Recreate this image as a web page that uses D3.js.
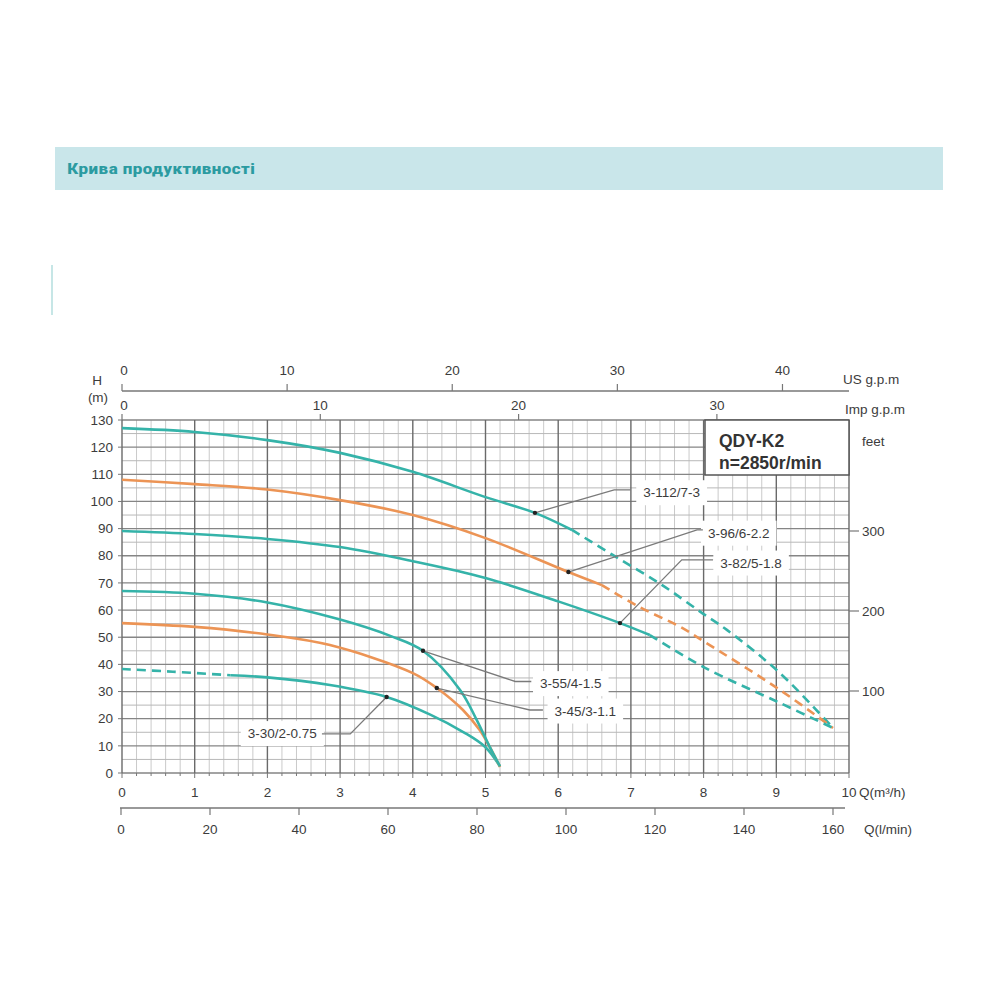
<!DOCTYPE html>
<html><head><meta charset="utf-8">
<script src="https://cdn.jsdelivr.net/npm/d3@7"></script>
<style>body{margin:0;background:#fff}svg{display:block}</style>
</head><body>
<script>
// ---------- DATA ----------
const title = "Крива продуктивності";
const modelName = "QDY-K2";
const speedText = "n=2850r/min";
const curveNames = ["3-112/7-3","3-96/6-2.2","3-82/5-1.8","3-55/4-1.5","3-45/3-1.1","3-30/2-0.75"];

const q112Solid = [0,1,2,3,4,5,5.68,6.19];
const h112Solid = [127,125.6,122.6,117.9,110.9,101.6,95.8,89.5];
const q112Dash  = [6.19,6.75,7.43,7.98,8.32,9.05,9.78];
const h112Dash  = [89.5,80.3,69.2,58.9,52.7,36.8,16.6];

const q96Solid = [0,1,2,3,4,5,6.14,6.6];
const h96Solid = [108,106.4,104.4,100.5,95,86.5,74,69.2];
const q96Dash  = [6.6,7.12,7.68,8,9.05,9.78];
const h96Dash  = [69.2,61.1,53.8,48.5,30.6,16.6];

const q82Solid = [0,1,2,3,4,5,6,6.85,7.26];
const h82Solid = [89.1,88,86.2,83.2,78,71.8,63.2,55.2,50.8];
const q82Dash  = [7.26,8,9.05,9.78];
const h82Dash  = [50.8,39,25.8,16.6];

const q55Solid = [0,1,2,3,3.69,4.14,4.65,4.88,5.06,5.2];
const h55Solid = [67,66,62.8,56.5,50.5,45,30.6,19.5,9.5,2.4];

const q45Solid = [0,1,2,2.86,4,4.33,4.69,4.92,5.06,5.2];
const h45Solid = [55.2,53.8,51,47.1,36.8,31.3,23.2,15.8,9.5,2.2];

const q30Dash  = [0,0.7,1.49];
const h30Dash  = [38.3,37.3,36];
const q30Solid = [1.49,2,2.86,3.64,4.24,4.7,5.0,5.2];
const h30Solid = [36,35.2,32.4,28,21.5,15,9.5,2.4];

// marker points on curves (Q m3/h, H m)
const markerQ = [5.68,6.14,6.85,4.14,4.33,3.64];
const markerH = [95.8,74,55.2,45,31.3,28];

// axis ticks
const qTicks = [0,1,2,3,4,5,6,7,8,9,10];
const hTicks = [0,10,20,30,40,50,60,70,80,90,100,110,120,130];
const usGpmTicks = [0,10,20,30,40];
const impGpmTicks = [0,10,20,30];
const lminTicks = [0,20,40,60,80,100,120,140,160];
const feetTicks = [100,200,300];

// ---------- LAYOUT ----------
const svg = d3.select("body").append("svg").attr("width",1000).attr("height",1000);
const FONT = "'Liberation Sans', Arial, sans-serif";
const TEAL = "#35b3a9", ORANGE = "#ec9455";
const X0 = 122, X1 = 849, Y0 = 773, Y1 = 420;
const FS = 13.5;

const x = d3.scaleLinear().domain([0,10]).range([X0,X1]);
const y = d3.scaleLinear().domain([0,130]).range([Y0,Y1]);
const xUS = d3.scaleLinear().domain([0,10*4.4029]).range([X0,X1]);
const xImp = d3.scaleLinear().domain([0,10*3.6662]).range([X0,X1]);
const xLmin = d3.scaleLinear().domain([0,160]).range([121,833]);
const yFeet = d3.scaleLinear().domain([0,400]).range([771,451]);

// header band
svg.append("rect").attr("x",55).attr("y",147).attr("width",888).attr("height",43).attr("fill","#c9e6ea");
svg.append("text").attr("x",67).attr("y",174).text(title)
  .attr("font-family","'Roboto Condensed','Liberation Sans Narrow',Roboto,sans-serif")
  .attr("font-weight","bold").attr("font-size",15.5).attr("fill","#2b9ba1")
  .attr("textLength",188).attr("lengthAdjust","spacingAndGlyphs");
svg.append("line").attr("x1",52).attr("x2",52).attr("y1",265).attr("y2",315)
  .attr("stroke","#c6e6e6").attr("stroke-width",2);

// grid
const g = svg.append("g");
const minorQ = d3.range(0,10.0001,0.2).map(v=>+v.toFixed(2));
const minorH = d3.range(0,130.0001,5);
g.selectAll("line.vmin").data(minorQ.filter(v=>Math.abs(v-Math.round(v))>1e-6)).enter().append("line")
  .attr("x1",d=>x(d)).attr("x2",d=>x(d)).attr("y1",Y1).attr("y2",Y0)
  .attr("stroke","#cacaca").attr("stroke-width",1);
g.selectAll("line.hmin").data(minorH.filter(v=>v%10!==0)).enter().append("line")
  .attr("x1",X0).attr("x2",X1).attr("y1",d=>y(d)).attr("y2",d=>y(d))
  .attr("stroke","#b8b8b8").attr("stroke-width",1);
g.selectAll("line.hmaj").data(hTicks).enter().append("line")
  .attr("x1",X0).attr("x2",X1).attr("y1",d=>y(d)).attr("y2",d=>y(d))
  .attr("stroke","#858585").attr("stroke-width",1.3);
g.selectAll("line.vmaj").data(qTicks).enter().append("line")
  .attr("x1",d=>x(d)).attr("x2",d=>x(d)).attr("y1",Y1).attr("y2",Y0)
  .attr("stroke","#6a6a6a").attr("stroke-width",1.4);

const txt = (sel)=>sel.attr("font-family",FONT).attr("fill","#3c3c3c").attr("font-size",FS);

// left H axis labels
hTicks.forEach(v=>{
  svg.append("line").attr("x1",X0-4).attr("x2",X0).attr("y1",y(v)).attr("y2",y(v)).attr("stroke","#777");
  txt(svg.append("text")).attr("x",X0-9).attr("y",y(v)).attr("dy","0.35em").attr("text-anchor","end").text(v);
});
txt(svg.append("text")).attr("x",97).attr("y",385).attr("text-anchor","middle").text("H");
txt(svg.append("text")).attr("x",98).attr("y",402).attr("text-anchor","middle").text("(m)");

// right feet axis
feetTicks.forEach(v=>{
  svg.append("line").attr("x1",X1).attr("x2",X1+10).attr("y1",yFeet(v)).attr("y2",yFeet(v)).attr("stroke","#777").attr("stroke-width",1.2);
  txt(svg.append("text")).attr("x",X1+13).attr("y",yFeet(v)).attr("dy","0.35em").text(v);
});
txt(svg.append("text")).attr("x",862).attr("y",441).attr("dy","0.35em").text("feet");

// top US gpm axis
svg.append("line").attr("x1",X0).attr("x2",X1).attr("y1",391).attr("y2",391).attr("stroke","#777").attr("stroke-width",1.3);
usGpmTicks.forEach(v=>{
  svg.append("line").attr("x1",xUS(v)).attr("x2",xUS(v)).attr("y1",391).attr("y2",384).attr("stroke","#777").attr("stroke-width",1.2);
  txt(svg.append("text")).attr("x",xUS(v)+(v===0?2:0)).attr("y",370).attr("dy","0.35em").attr("text-anchor","middle").text(v);
});
txt(svg.append("text")).attr("x",843).attr("y",379).attr("dy","0.35em").text("US g.p.m");

// Imp gpm axis (on top border)
impGpmTicks.forEach(v=>{
  svg.append("line").attr("x1",xImp(v)).attr("x2",xImp(v)).attr("y1",Y1).attr("y2",Y1-6).attr("stroke","#777").attr("stroke-width",1.2);
  txt(svg.append("text")).attr("x",xImp(v)+(v===0?2:0)).attr("y",405).attr("dy","0.35em").attr("text-anchor","middle").text(v);
});
txt(svg.append("text")).attr("x",845).attr("y",409).attr("dy","0.35em").text("Imp g.p.m");

// bottom Q m3/h axis
minorQ.forEach(v=>{
  const major = Math.abs(v-Math.round(v))<1e-6;
  svg.append("line").attr("x1",x(v)).attr("x2",x(v)).attr("y1",Y0).attr("y2",Y0+(major?5:3)).attr("stroke","#777");
});
qTicks.forEach(v=>{
  txt(svg.append("text")).attr("x",x(v)).attr("y",792).attr("dy","0.35em").attr("text-anchor","middle").text(v);
});
txt(svg.append("text")).attr("x",859).attr("y",792).attr("dy","0.35em").text("Q(m³/h)");

// l/min axis
svg.append("line").attr("x1",120).attr("x2",845).attr("y1",808).attr("y2",808).attr("stroke","#777").attr("stroke-width",1.3);
lminTicks.forEach(v=>{
  svg.append("line").attr("x1",xLmin(v)).attr("x2",xLmin(v)).attr("y1",808).attr("y2",815).attr("stroke","#777").attr("stroke-width",1.2);
  txt(svg.append("text")).attr("x",xLmin(v)).attr("y",829).attr("dy","0.35em").attr("text-anchor","middle").text(v);
});
txt(svg.append("text")).attr("x",864).attr("y",829).attr("dy","0.35em").text("Q(l/min)");

// legend box
svg.append("rect").attr("x",705).attr("y",Y1).attr("width",X1-705).attr("height",55)
  .attr("fill","#fff").attr("stroke","#555").attr("stroke-width",1.5);
svg.append("text").attr("x",719).attr("y",447).text(modelName)
  .attr("font-family",FONT).attr("font-weight","bold").attr("font-size",17.5).attr("fill","#333");
svg.append("text").attr("x",719).attr("y",469).text(speedText)
  .attr("font-family",FONT).attr("font-weight","bold").attr("font-size",17.5).attr("fill","#333");

// curves
const line = d3.line().x(d=>x(d[0])).y(d=>y(d[1])).curve(d3.curveCatmullRom.alpha(0.5));
const zip = (a,b)=>a.map((v,i)=>[v,b[i]]);
const segs = [
  {q:q112Solid,h:h112Solid,c:TEAL,dash:false},{q:q112Dash,h:h112Dash,c:TEAL,dash:true},
  {q:q96Solid,h:h96Solid,c:ORANGE,dash:false},{q:q96Dash,h:h96Dash,c:ORANGE,dash:true},
  {q:q82Solid,h:h82Solid,c:TEAL,dash:false},{q:q82Dash,h:h82Dash,c:TEAL,dash:true},
  {q:q30Dash,h:h30Dash,c:TEAL,dash:true},{q:q30Solid,h:h30Solid,c:TEAL,dash:false},
  {q:q45Solid,h:h45Solid,c:ORANGE,dash:false},
  {q:q55Solid,h:h55Solid,c:TEAL,dash:false}
];
segs.forEach(s=>{
  svg.append("path").attr("d",line(zip(s.q,s.h))).attr("fill","none")
    .attr("stroke",s.c).attr("stroke-width",2.6).attr("stroke-dasharray",s.dash?"9,6":null)
    .attr("stroke-linecap","butt");
});

// labels with leader lines: [elbowQ, elbowH, endQ, textQ, textH, anchor]
const labelLayout = [
  [6.77,104.3,7.0,7.17,103.3,"start"],
  [7.91,89.5,7.99,8.06,88.4,"start"],
  [7.70,78.5,8.13,8.23,77.4,"start"],
  [5.41,33.7,5.63,5.75,33.0,"start"],
  [5.61,23.2,5.79,5.95,22.9,"start"],
  [3.14,14.4,2.75,2.68,14.6,"end"]
];
curveNames.forEach((name,i)=>{
  const L = labelLayout[i];
  const t = svg.append("text").attr("x",x(L[3])).attr("y",y(L[4])).attr("dy","0.35em")
    .attr("text-anchor",L[5]).attr("font-family",FONT).attr("font-size",FS).attr("fill","#3c3c3c").text(name);
  const bb = t.node().getBBox();
  svg.append("rect").attr("x",bb.x-7).attr("y",bb.y-5).attr("width",bb.width+14).attr("height",bb.height+10).attr("fill","#fff");
  t.raise();
  svg.append("polyline").attr("points",[[x(markerQ[i]),y(markerH[i])],[x(L[0]),y(L[1])],[x(L[2]),y(L[1])]].map(p=>p.join(",")).join(" "))
    .attr("fill","none").attr("stroke","#7a7a7a").attr("stroke-width",1.3);
  svg.append("circle").attr("cx",x(markerQ[i])).attr("cy",y(markerH[i])).attr("r",2.2).attr("fill","#222");
});
</script>
</body></html>
